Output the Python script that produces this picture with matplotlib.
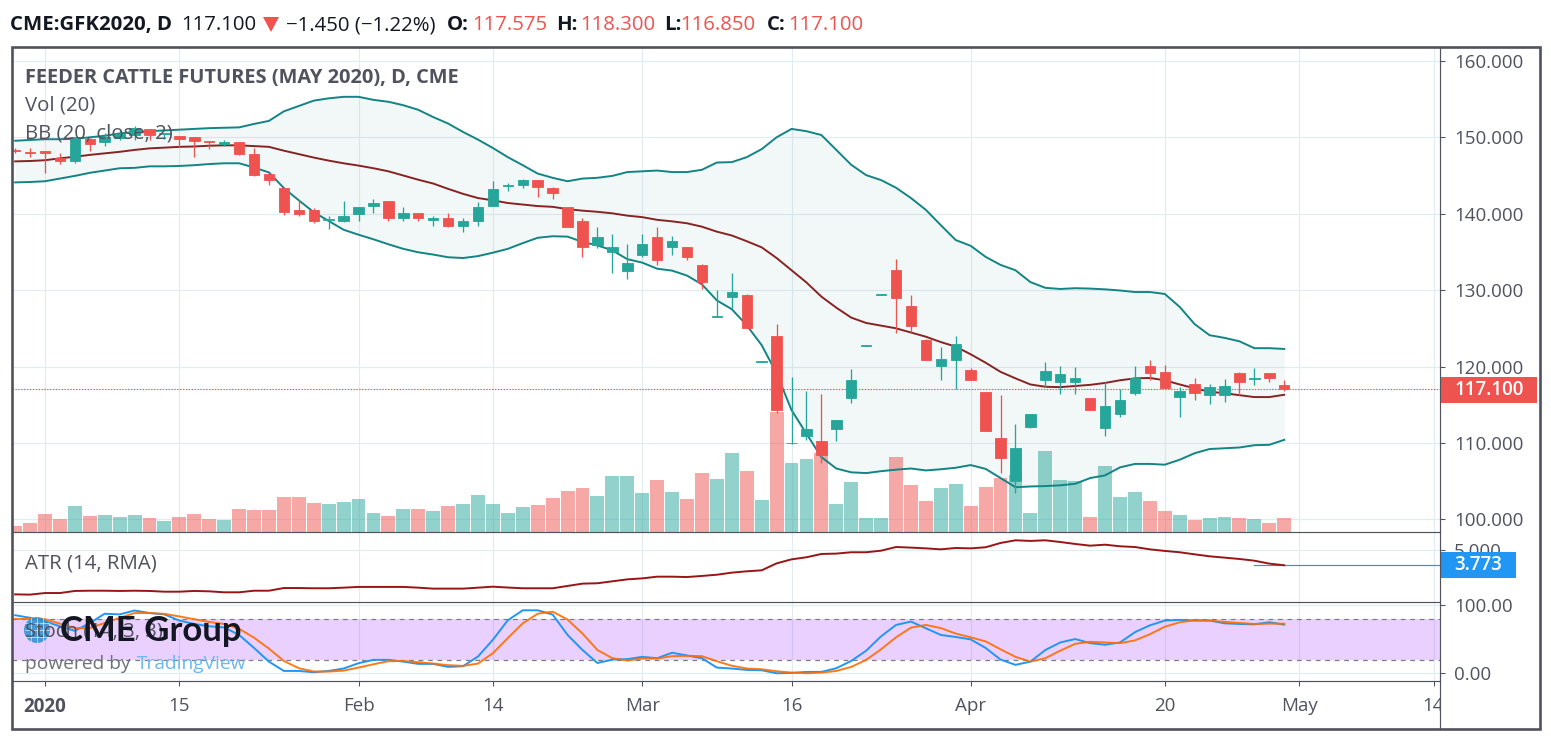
import matplotlib
matplotlib.use('Agg')
import matplotlib.pyplot as plt
from matplotlib.patches import Circle, Rectangle, Polygon

plt.rcParams['font.family'] = ['Open Sans', 'DejaVu Sans']

W, H = 1551, 740
GRID = '#e1ecf2'
TEXT = '#50535e'
UP = '#26a69a'
DOWN = '#ef5350'

# trading day index, 0 is the first session of 2020
days = list(range(-2, 84))

opens = [148.4, 148.05, 148.2, 147.3, 146.95, 149.8, 149.4, 149.9, 150.3, 151.05,
         150.45, 150.15, 150.05, 149.5, 149.15, 149.4, 147.8, 145.2, 143.35, 140.45,
         140.45, 139.15, 139.1, 139.9, 141.0, 141.6, 139.5, 140.15, 139.15, 139.5,
         138.35, 139.0, 140.95, 143.6, 143.7, 144.35, 143.3, 140.85, 139.0, 135.85,
         134.95, 132.45, 134.65, 136.9, 135.6, 135.6, 133.25, 126.5, 129.05, 129.3,
         120.63, 124.0, 109.95, 110.85, 110.2, 111.8, 115.85, 122.73, 129.4, 132.6,
         127.9, 123.45, 120.05, 120.85, 119.5, 116.65, 110.6, 104.95, 112.05, 118.2,
         117.95, 117.95, 115.85, 111.95, 113.8, 116.5, 120.05, 119.25, 116.0, 117.7,
         116.25, 116.25, 119.15, 118.35, 119.15, 117.575]
highs = [148.6, 148.55, 148.2, 147.9, 150.1, 149.85, 150.6, 151.0, 151.5, 151.05,
         150.6, 150.2, 150.05, 149.5, 149.65, 149.4, 148.6, 145.2, 143.35, 141.75,
         140.8, 139.7, 141.6, 140.85, 141.95, 141.6, 140.85, 140.15, 139.65, 140.15,
         139.5, 141.5, 144.25, 144.05, 144.5, 144.45, 143.45, 140.85, 139.4, 138.2,
         137.4, 136.0, 137.4, 138.2, 137.05, 135.6, 133.4, 129.95, 132.2, 129.45,
         120.75, 125.55, 118.6, 116.75, 116.4, 113.0, 119.65, 122.8, 129.5, 134.05,
         129.35, 123.65, 122.55, 124.0, 119.8, 116.65, 116.25, 112.45, 113.75, 120.55,
         120.05, 120.0, 115.85, 117.95, 117.05, 120.05, 120.85, 120.15, 117.3, 118.5,
         117.7, 118.35, 119.25, 119.8, 119.15, 118.3]
lows = [148.0, 147.45, 145.35, 146.55, 146.65, 148.2, 148.9, 149.6, 149.7, 149.65,
        149.75, 148.75, 147.45, 148.45, 148.8, 147.7, 144.95, 143.75, 139.85, 139.75,
        138.8, 137.95, 138.95, 139.05, 140.15, 139.1, 139.0, 139.1, 138.45, 138.2,
        137.55, 138.45, 140.95, 143.0, 143.3, 142.25, 141.9, 138.2, 134.3, 135.45,
        132.2, 131.4, 134.3, 133.35, 134.65, 133.9, 130.1, 126.45, 127.7, 125.0,
        120.63, 113.95, 109.9, 110.35, 107.35, 110.2, 115.2, 122.7, 129.4, 124.35,
        124.5, 120.85, 118.2, 117.05, 118.2, 111.55, 106.05, 103.4, 111.9, 117.3,
        116.4, 116.4, 114.3, 110.9, 113.4, 116.25, 118.2, 117.15, 113.4, 115.6,
        115.1, 115.35, 116.25, 117.55, 117.95, 116.85]
closes = [148.25, 148.0, 147.95, 146.95, 150.0, 149.15, 150.1, 150.4, 151.2, 150.3,
          150.55, 149.8, 149.5, 149.4, 149.35, 147.8, 145.05, 144.4, 140.2, 139.9,
          139.0, 139.25, 139.65, 140.85, 141.35, 139.4, 140.05, 139.4, 139.4, 138.35,
          139.0, 140.85, 143.2, 143.7, 144.35, 143.45, 142.65, 138.2, 135.6, 136.9,
          135.6, 133.5, 136.0, 133.9, 136.4, 134.3, 131.0, 126.55, 129.7, 125.1,
          120.67, 114.3, 110.0, 111.8, 108.4, 113.0, 118.2, 122.77, 129.45, 128.95,
          125.3, 120.85, 120.95, 122.95, 118.2, 111.55, 108.0, 109.3, 113.75, 119.4,
          119.0, 118.5, 114.3, 114.85, 115.6, 118.5, 119.15, 117.15, 116.8, 116.5,
          117.3, 117.45, 117.95, 118.5, 118.5, 117.1]
volumes = [6, 9, 18, 13, 26, 16, 17, 15, 17, 14,
           11, 15, 18, 13, 12, 23, 22, 22, 35, 35,
           29, 28, 30, 33, 19, 16, 23, 23, 21, 26,
           28, 37, 28, 19, 25, 27, 34, 41, 44, 36,
           56, 56, 39, 52, 40, 33, 59, 53, 79, 61,
           32, 120, 69, 73, 79, 28, 50, 14, 14, 75,
           47, 31, 44, 48, 26, 45, 54, 57, 19, 81,
           52, 51, 15, 66, 35, 40, 31, 21, 17, 12,
           14, 15, 14, 13, 9, 14]
bb_upper = [149.55, 149.65, 149.75, 149.75, 149.8, 150.0, 150.2, 150.5, 150.7, 150.8,
            150.9, 151.0, 151.1, 151.2, 151.25, 151.3, 151.75, 152.15, 153.4, 154.1,
            154.8, 155.1, 155.3, 155.3, 154.9, 154.65, 154.2, 153.6, 152.65, 151.8,
            150.7, 149.7, 148.6, 147.4, 146.35, 145.25, 144.7, 144.25, 144.6, 144.7,
            144.95, 145.45, 145.55, 145.65, 145.45, 145.45, 145.75, 146.7, 146.75, 147.4,
            148.45, 150.0, 151.1, 150.8, 150.3, 148.35, 146.4, 145.05, 144.4, 143.4,
            142.05, 140.5, 138.5, 136.55, 135.8, 134.35, 133.3, 132.6, 131.05, 130.3,
            130.15, 130.25, 130.2, 130.1, 129.95, 129.75, 129.75, 129.5, 127.8, 125.55,
            124.1, 123.75, 123.3, 122.4, 122.4, 122.3]
bb_basis = [146.85, 146.9, 147.0, 147.25, 147.45, 147.7, 147.9, 148.1, 148.35, 148.55,
            148.65, 148.75, 148.8, 148.9, 148.95, 148.95, 148.85, 148.75, 148.25, 147.8,
            147.35, 146.95, 146.6, 146.3, 145.95, 145.55, 145.0, 144.45, 143.95, 143.25,
            142.6, 142.05, 141.75, 141.4, 141.2, 141.0, 140.9, 140.6, 140.4, 140.25,
            140.05, 139.75, 139.55, 139.2, 139.0, 138.75, 138.3, 137.65, 137.15, 136.4,
            135.6, 134.2, 132.6, 131.0, 129.15, 127.7, 126.4, 125.7, 125.35, 125.0,
            124.45, 123.9, 123.2, 122.6, 121.6, 120.5, 119.3, 118.45, 117.65, 117.35,
            117.3, 117.45, 117.6, 117.85, 118.2, 118.45, 118.5, 118.2, 117.65, 117.15,
            116.7, 116.5, 116.25, 116.0, 116.0, 116.3]
bb_lower = [144.1, 144.15, 144.25, 144.6, 144.95, 145.35, 145.65, 145.95, 146.0, 146.2,
            146.2, 146.25, 146.35, 146.5, 146.6, 146.6, 146.05, 145.4, 143.35, 141.75,
            140.2, 139.05, 137.9, 137.25, 136.65, 136.0, 135.4, 134.95, 134.65, 134.3,
            134.2, 134.45, 134.9, 135.4, 136.15, 136.85, 137.05, 137.0, 136.3, 135.85,
            135.2, 134.05, 133.6, 132.8, 132.55, 131.9, 130.75, 128.65, 127.5, 125.4,
            122.8, 119.1, 114.3, 111.2, 108.15, 106.65, 106.15, 106.05, 106.3, 106.5,
            106.65, 106.4, 106.55, 106.75, 107.1, 106.6, 105.4, 104.2, 104.3, 104.35,
            104.45, 104.65, 105.4, 105.75, 106.8, 107.25, 107.25, 107.15, 107.8, 108.65,
            109.2, 109.3, 109.4, 109.7, 109.75, 110.4]
atr = [1.39, 1.37, 1.5, 1.5, 1.67, 1.69, 1.69, 1.67, 1.69, 1.67,
       1.61, 1.61, 1.67, 1.64, 1.56, 1.56, 1.69, 1.69, 1.91, 1.91,
       1.89, 1.89, 1.94, 2.0, 2.0, 2.0, 2.0, 1.94, 1.86, 1.86,
       1.86, 1.94, 2.02, 1.95, 1.89, 1.89, 1.89, 2.08, 2.27, 2.3,
       2.46, 2.62, 2.7, 2.84, 2.84, 2.81, 2.9, 3.0, 3.17, 3.28,
       3.36, 3.93, 4.26, 4.43, 4.7, 4.73, 4.84, 4.84, 4.97, 5.27,
       5.22, 5.16, 5.08, 5.19, 5.16, 5.25, 5.6, 5.82, 5.77, 5.82,
       5.68, 5.52, 5.38, 5.46, 5.33, 5.27, 5.08, 4.95, 4.84, 4.67,
       4.51, 4.4, 4.29, 4.15, 3.91, 3.773]
stoch_k = [84.8, 81, 76, 68.6, 62, 73.5, 87, 86, 91.7, 88,
           86, 77, 72, 68.6, 67, 56, 37, 17, 3.4, 3.4,
           1.5, 3.4, 6.9, 14.7, 19.6, 19.6, 17, 13.7, 13.7, 9.3,
           10.3, 24.5, 49, 77.5, 92, 92, 85.8, 56, 34, 15,
           20, 20.6, 24, 22, 30, 26, 22, 8.3, 6.9, 4.9,
           4.4, 0, 0.5, 2, 2, 7.4, 18, 33, 54, 70.6,
           75.5, 65.7, 56, 53, 49.5, 37, 20, 12.3, 17, 34,
           45, 50, 44, 41.7, 45, 60, 70, 77, 78, 77,
           77, 73, 72, 71.5, 74.5, 71]
stoch_d = [79.4, 79.4, 79, 72.5, 66, 66, 73.5, 81, 88, 88,
           86.8, 83, 79, 75, 72, 65, 52, 36, 18, 7.4,
           2.5, 2.5, 3.9, 8.3, 13.2, 17.6, 18, 16.2, 14.2, 11.8,
           10.8, 14.2, 29.4, 51.5, 73, 87, 90, 78.4, 58, 34,
           22, 18.6, 21.6, 21.6, 25, 25.5, 25, 17.6, 11, 6.9,
           5.9, 2.9, 1, 0, 1, 3.4, 9.3, 19.6, 35, 52.5,
           66.7, 70.6, 66, 58, 52.5, 46.6, 35, 24, 17, 22,
           33, 43, 46, 45, 44, 48, 57, 68, 74.5, 77.5,
           77, 75, 73.5, 72, 72.5, 72.5]

x_ticks = [0, 9, 21, 30, 40, 50, 62, 75, 84, 93]
x_labels = ['2020', '15', 'Feb', '14', 'Mar', '16', 'Apr', '20', 'May', '14']
price_ticks = [100, 110, 120, 130, 140, 150, 160]
last_close = 117.1
last_atr = 3.773


def rect(l, t, r, b):
    return [l / W, 1 - b / H, (r - l) / W, (b - t) / H]


fig = plt.figure(figsize=(W / 100, H / 100), dpi=100, facecolor='white')
ax = fig.add_axes(rect(12, 47, 1439.5, 532))
ax_atr = fig.add_axes(rect(12, 532, 1439.5, 601.5))
ax_st = fig.add_axes(rect(12, 601.5, 1439.5, 681))

for a in (ax, ax_atr, ax_st):
    a.set_xlim(-2.21, 93.4)
    a.set_xticks(x_ticks)
    a.grid(True, color=GRID, lw=0.85)
    a.set_axisbelow(True)
    a.yaxis.tick_right()
    a.tick_params(axis='y', length=3.6, width=0.75, color=TEXT, labelcolor=TEXT, labelsize=13.5, pad=6.8)
    a.tick_params(axis='x', length=0, labelbottom=False)
    for s in a.spines.values():
        s.set_visible(False)

# price pane
ax.set_ylim(98.34, 161.82)
ax.set_yticks(price_ticks)
ax.set_yticklabels(['%.3f' % p for p in price_ticks])
colors = [UP if c >= o else DOWN for o, c in zip(opens, closes)]

vol_scale = (161.82 - 98.34) / 485
ax.bar(days, [v * vol_scale for v in volumes], bottom=98.34, width=0.93, color=colors, alpha=0.5, lw=0, zorder=1)

ax.fill_between(days, bb_lower, bb_upper, color='#138484', alpha=0.05, lw=0, zorder=1.5)
ax.plot(days, bb_upper, color='#138484', lw=1.4, zorder=2)
ax.plot(days, bb_lower, color='#138484', lw=1.4, zorder=2)
ax.plot(days, bb_basis, color='#872323', lw=1.4, zorder=2)

ax.axhline(last_close, color=DOWN, lw=0.8, dashes=(1.3, 1.3), zorder=2.5)

ax.vlines(days, lows, highs, colors=colors, lw=0.95, zorder=3)
bottoms = [min(o, c) for o, c in zip(opens, closes)]
heights = [abs(o - c) for o, c in zip(opens, closes)]
ax.bar(days, heights, bottom=bottoms, width=0.7, color=colors, edgecolor=colors, lw=0.6, zorder=3)

# ATR pane
ax_atr.set_ylim(0.806, 6.5)
ax_atr.set_yticks([5])
ax_atr.set_yticklabels(['5.000'])
ax_atr.plot(days, atr, color='#991515', lw=1.4, zorder=2)
ax_atr.plot([days[-3], 93.4], [last_atr, last_atr], color='#2196f3', lw=0.85, zorder=1.5)

# stochastic pane
ax_st.set_ylim(-11.3, 104.85)
ax_st.set_yticks([0, 100])
ax_st.set_yticklabels(['0.00', '100.00'])
for lab in ax_st.get_yticklabels():
    lab.set_y(lab.get_position()[1])
ax_st.axhspan(20, 80, color='#9915ff', alpha=0.2, lw=0, zorder=1)
ax_st.axhline(80, color='#787b86', lw=0.85, dashes=(4, 4), zorder=1.5)
ax_st.axhline(20, color='#787b86', lw=0.85, dashes=(4, 4), zorder=1.5)
ax_st.plot(days, stoch_k, color='#2196f3', lw=1.4, zorder=2)
ax_st.plot(days, stoch_d, color='#ff6d00', lw=1.4, alpha=0.9, zorder=2)

ax_st.tick_params(axis='x', length=3.6, width=0.75, color=TEXT, labelcolor=TEXT,
                  labelsize=13.5, labelbottom=True, pad=8)
ax_st.set_xticklabels(x_labels)
ax_st.get_xticklabels()[0].set_fontweight('bold')

# decoration layer in image pixels
top = fig.add_axes([0, 0, 1, 1], zorder=10)
top.set_xlim(0, W)
top.set_ylim(H, 0)
top.axis('off')

top.add_patch(Rectangle((1440, 683), 98, 44, color='white', lw=0, zorder=1))
top.add_patch(Rectangle((11.5, 46.5), 1528.5, 682, fill=False, edgecolor=TEXT, lw=1.9, zorder=5))
for y in (532, 601.5, 681):
    top.plot([12, 1440], [y, y], color=TEXT, lw=0.85, zorder=4)
top.plot([1440, 1440], [47, 728], color=TEXT, lw=0.85, zorder=4)

top.add_patch(Rectangle((1440, 377), 97, 25.5, color=DOWN, lw=0, zorder=2))
top.text(1489.5, 390, '117.100', color='white', fontsize=13.5, fontweight='semibold', ha='center', va='center', zorder=3)
top.add_patch(Rectangle((1440, 552), 76, 26, color='#2196f3', lw=0, zorder=2))
top.text(1478, 565, '3.773', color='white', fontsize=13.5, fontweight='semibold', ha='center', va='center', zorder=3)

header = [(10, 'CME:GFK2020, D', '#131722', 'bold'), (181, '117.100', '#131722', 'normal'),
          (286, '\u22121.450 (\u22121.22%)', '#131722', 'normal'),
          (447, 'O:', '#131722', 'bold'), (472, '117.575', DOWN, 'normal'),
          (556, 'H:', '#131722', 'bold'), (580, '118.300', DOWN, 'normal'),
          (664, 'L:', '#131722', 'bold'), (680, '116.850', DOWN, 'normal'),
          (767, 'C:', '#131722', 'bold'), (788, '117.100', DOWN, 'normal')]
for hx, s, c, w in header:
    top.text(hx, 25, s, color=c, fontweight=w, fontsize=14.7, ha='left', va='center')
top.add_patch(Polygon([(263, 17), (279, 17), (271, 32)], closed=True, color=DOWN, lw=0))

top.text(25, 78, 'FEEDER CATTLE FUTURES (MAY 2020), D, CME', color=TEXT, fontsize=14.4, fontweight='bold', va='center')
top.text(25, 106, 'Vol (20)', color=TEXT, fontsize=14.7, va='center')
top.text(25, 134, 'BB (20, close, 2)', color=TEXT, fontsize=14.7, va='center')
top.text(25, 563, 'ATR (14, RMA)', color=TEXT, fontsize=14.7, va='center')
top.text(25, 632, 'Stoch (14, 3, 3)', color=TEXT, fontsize=14.7, va='center')

# CME Group logo over the stochastic pane
top.add_patch(Circle((37, 630), 13, color='#2a8fd0', alpha=0.85, lw=0, zorder=2))
for dy in (-7, 0, 7):
    top.plot([25, 49], [630 + dy, 630 + dy], color='white', lw=0.5, alpha=0.8, zorder=2.1)
for dx in (-6, 0, 6):
    top.plot([37 + dx, 37 + dx], [618, 642], color='white', lw=0.5, alpha=0.8, zorder=2.1)
top.text(60, 631, 'CME Group', color='#131722', fontsize=25, fontfamily='Lato', fontweight='bold', va='center', zorder=3)
top.text(25, 664, 'powered by', color='#6f7178', fontsize=13.8, va='center', zorder=3)
top.text(137, 664, 'TradingView', color='#6db7f2', fontsize=13.8, va='center', zorder=3)

fig.savefig('out.png', dpi=100)
